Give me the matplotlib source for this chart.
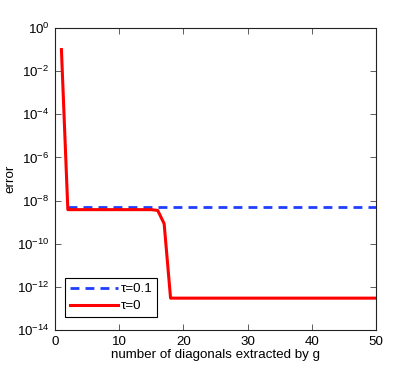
import matplotlib
matplotlib.use("Agg")
import matplotlib.pyplot as plt
import numpy as np

plt.rcParams['font.family'] = ['Liberation Sans', 'DejaVu Sans']

# Data
x_tau0 = list(range(1, 51))
err_tau0 = [1e-1] + [3.8e-9] * 14 + [3.5e-9, 8.5e-10] + [3.0e-13] * 33
x_tau01 = list(range(2, 51))
err_tau01 = [4.8e-9] * 49

xticks = [0, 10, 20, 30, 40, 50]
yticks = [1e-14, 1e-12, 1e-10, 1e-8, 1e-6, 1e-4, 1e-2, 1e0]

fs = 9.6
fig = plt.figure(figsize=(4.15, 3.71), dpi=100)
ax = fig.add_axes([55/415, 1 - 330/371, (376-55)/415, (330-28)/371])

ax.semilogy(x_tau01, err_tau01, '--', color='#1f3fff', lw=2, label='τ=0.1', dashes=(3.2, 2.2))
ax.semilogy(x_tau0, err_tau0, '-', color='#ff0000', lw=2.2, label='τ=0')

ax.set_xlim(0, 50)
ax.set_ylim(1e-14, 1e0)
ax.set_xticks(xticks)
ax.set_yticks(yticks)
ax.yaxis.set_minor_locator(matplotlib.ticker.NullLocator())
ax.tick_params(direction='in', top=True, right=True, labelsize=fs, length=4, width=0.6,
               color='#444444', pad=4)
for s in ax.spines.values():
    s.set_linewidth(0.8)
    s.set_color('#222222')

ax.set_xlabel('number of diagonals extracted by g', fontsize=fs, labelpad=1)
ax.set_ylabel('error', fontsize=fs, labelpad=0)

leg = ax.legend(loc='lower left', bbox_to_anchor=((65-55)/321, (330-317)/302), fontsize=fs,
                frameon=True, fancybox=False, edgecolor='black', framealpha=1,
                borderaxespad=0, handlelength=3.6, borderpad=0.35, labelspacing=0.35,
                handletextpad=0.2)
leg.get_frame().set_linewidth(0.8)

fig.savefig('out.png', dpi=100)
